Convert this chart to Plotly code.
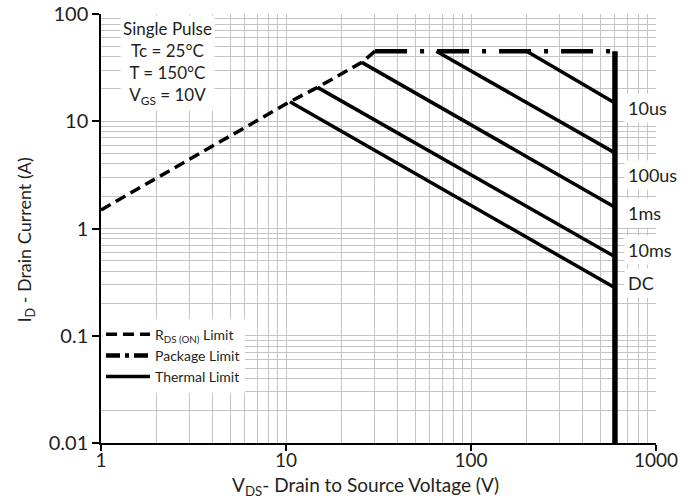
import math
import plotly.graph_objects as go

# ---- data ----
rds_v = [1, 10.5, 14.8, 25.7, 30.3]
rds_i = [1.49, 15.2, 20.7, 35.4, 45]

pkg_v = [30.3, 600]
pkg_i = [45, 45]

thermal_names = ["10us", "100us", "1ms", "10ms", "DC"]
thermal_v = [[200, 600], [65, 600], [25.7, 600], [14.8, 600], [10.5, 600]]
thermal_i = [[45, 14.8], [45, 5.07], [35.4, 1.58], [20.7, 0.546], [15.2, 0.28]]

vmax_v = [600, 600]
vmax_i = [45, 0.01]

label_i = [13.3, 3.16, 1.40, 0.63, 0.313]

x_ticks = [1, 10, 100, 1000]
x_ticktext = ["1", "10", "100", "1000"]
y_ticks = [0.01, 0.1, 1, 10, 100]
y_ticktext = ["0.01", "0.1", "1", "10", "100"]

# ---- figure ----
FONT = "Lato"
TXT = "#231f20"
GRID = "#c4c4c4"

fig = go.Figure()
fig.add_trace(go.Scatter(x=rds_v, y=rds_i, mode="lines",
                         line=dict(color="black", width=3.5, dash="11px,6px"),
                         name="R<sub>DS (ON)</sub> Limit"))
fig.add_trace(go.Scatter(x=pkg_v, y=pkg_i, mode="lines",
                         line=dict(color="black", width=4.5, dash="32px,13px,4px,13px"),
                         name="Package Limit", showlegend=False))
# legend entry for the package limit with a shorter dash-dot so it reads in the key
fig.add_trace(go.Scatter(x=[None], y=[None], mode="lines",
                         line=dict(color="black", width=4.5, dash="14px,5px,4px,5px"),
                         name="Package Limit"))
for k, (v, i) in enumerate(zip(thermal_v, thermal_i)):
    fig.add_trace(go.Scatter(x=v, y=i, mode="lines",
                             line=dict(color="black", width=3.5),
                             name="Thermal Limit", showlegend=(k == 0),
                             legendgroup="thermal"))
fig.add_trace(go.Scatter(x=vmax_v, y=vmax_i, mode="lines",
                         line=dict(color="black", width=5.5), showlegend=False))

for name, yi in zip(thermal_names, label_i):
    fig.add_annotation(text=name, xref="paper", yref="y", x=0.942, y=math.log10(yi),
                       xanchor="left", yanchor="middle", showarrow=False,
                       bgcolor="white", borderpad=3,
                       font=dict(family=FONT, size=18, color=TXT))

fig.add_annotation(text="Single Pulse<br>Tc = 25°C<br>T = 150°C<br>V<sub>GS</sub> = 10V",
                   xref="paper", yref="paper", x=0.1194, y=0.886,
                   xanchor="center", yanchor="middle", showarrow=False,
                   bgcolor="white", borderpad=2,
                   font=dict(family=FONT, size=17, color=TXT))

fig.add_annotation(text="I<sub>D</sub> - Drain Current (A)", xref="paper", yref="paper",
                   x=-0.136, y=0.473, textangle=-90, showarrow=False,
                   xanchor="center", yanchor="middle",
                   font=dict(family=FONT, size=18, color=TXT))
fig.add_annotation(text="V<sub>DS</sub>- Drain to Source Voltage (V)", xref="paper", yref="paper",
                   x=0.476, y=-0.1, showarrow=False,
                   xanchor="center", yanchor="middle",
                   font=dict(family=FONT, size=19, color=TXT))

fig.update_xaxes(type="log", range=[0, 3], tickvals=x_ticks, ticktext=x_ticktext,
                 showgrid=True, gridcolor=GRID, gridwidth=1.2,
                 minor=dict(dtick="D1", showgrid=True, gridcolor=GRID, gridwidth=1.2),
                 showline=True, linecolor="black", linewidth=1.5,
                 ticks="outside", ticklen=6, tickcolor="black", tickwidth=1.5,
                 ticklabelstandoff=-7,
                 tickfont=dict(family=FONT, size=19, color=TXT), zeroline=False)
fig.update_yaxes(type="log", range=[-2, 2], tickvals=y_ticks, ticktext=y_ticktext,
                 showgrid=True, gridcolor=GRID, gridwidth=1.2,
                 minor=dict(dtick="D1", showgrid=True, gridcolor=GRID, gridwidth=1.2),
                 showline=True, linecolor="black", linewidth=1.5,
                 ticks="outside", ticklen=7, tickcolor="black", tickwidth=1.5,
                 tickfont=dict(family=FONT, size=20, color=TXT), zeroline=False)

fig.update_layout(
    width=694, height=498,
    margin=dict(l=101, r=38, t=14, b=55, autoexpand=False),
    paper_bgcolor="white", plot_bgcolor="white",
    font=dict(family=FONT, color=TXT),
    legend=dict(x=0.0, y=0.29, xanchor="left", yanchor="top",
                bgcolor="white", font=dict(family=FONT, size=14, color=TXT),
                tracegroupgap=0, itemwidth=44),
)

fig.write_html("out.html", config={"displayModeBar": False},
               post_script="document.body.style.margin='0';document.body.style.overflow='hidden';")
